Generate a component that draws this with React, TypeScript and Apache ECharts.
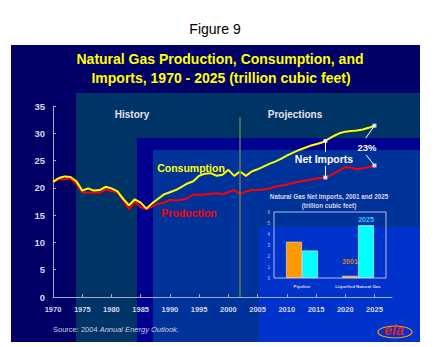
import React, { useEffect, useRef } from "react";
import * as echarts from "echarts";

const years = [
  1970, 1971, 1972, 1973, 1974, 1975, 1976, 1977, 1978, 1979,
  1980, 1981, 1982, 1983, 1984, 1985, 1986, 1987, 1988, 1989,
  1990, 1991, 1992, 1993, 1994, 1995, 1996, 1997, 1998, 1999,
  2000, 2001, 2002, 2003, 2004, 2005, 2006, 2007, 2008, 2009,
  2010, 2011, 2012, 2013, 2014, 2015, 2016, 2017, 2018, 2019,
  2020, 2021, 2022, 2023, 2024, 2025,
];

const consumption = [
  21.1, 21.8, 22.1, 22.0, 21.2, 19.5, 19.9, 19.5, 19.6, 20.2,
  19.9, 19.4, 18.0, 16.8, 17.9, 17.3, 16.2, 17.2, 18.0, 18.8,
  19.2, 19.6, 20.2, 20.8, 21.2, 22.2, 22.6, 22.7, 22.2, 22.4,
  23.3, 22.2, 23.0, 22.2, 23.0, 23.4, 23.9, 24.4, 24.8, 25.3,
  25.9, 26.4, 26.9, 27.3, 27.7, 28.0, 28.3, 28.9, 29.5, 30.0,
  30.3, 30.4, 30.5, 30.7, 31.0, 31.4,
];

const production = [
  21.0, 21.6, 21.6, 21.7, 20.7, 19.2, 19.1, 19.2, 19.1, 19.7,
  19.4, 19.2, 17.8, 16.1, 17.5, 16.5, 16.1, 16.6, 17.1, 17.3,
  17.8, 17.7, 17.8, 18.1, 18.8, 18.7, 18.8, 18.9, 19.0, 18.8,
  19.2, 19.6, 18.9, 19.3, 19.6, 19.6, 19.7, 19.9, 20.2, 20.4,
  20.6, 20.9, 21.1, 21.3, 21.5, 21.7, 21.8, 22.0, 22.6, 23.2,
  23.8, 23.7, 23.4, 23.6, 23.8, 24.1,
];

const xTickLabels = [1970, 1975, 1980, 1985, 1990, 1995, 2000, 2005, 2010, 2015, 2020, 2025];

const insetCategories = ["Pipeline", "Liquefied Natural Gas"];
const imports2001 = [3.3, 0.2];
const imports2025 = [2.5, 4.8];

const historyEndYear = 2002;
const arrowYear = 2016.6;
const arrowConsumption = 28.6;
const arrowProduction = 21.9;

const FONT = '"Liberation Sans", Arial, Helvetica, sans-serif';
const AXIS_COLOR = "#a8a8c8";
const LABEL_COLOR = "#d8d8e8";

function txt(
  text: string,
  x: number,
  y: number,
  size: number,
  fill: string,
  opts: any = {}
) {
  const align = opts.align || "center";
  return {
    type: "text",
    x,
    y,
    z: 50,
    style: {
      text,
      fill,
      fontSize: size,
      fontWeight: opts.weight || "bold",
      fontStyle: opts.style || "normal",
      fontFamily: FONT,
      align,
      textAlign: align,
      verticalAlign: "middle",
      textVerticalAlign: "middle",
    },
  };
}

function rect(x: number, y: number, w: number, h: number, fill: string) {
  return {
    type: "rect",
    z: -10,
    shape: { x, y, width: w, height: h },
    style: { fill },
    silent: true,
  };
}

export default function App() {
  const ref = useRef<HTMLDivElement>(null);

  useEffect(() => {
    if (!ref.current) return;
    const chart = echarts.init(ref.current, undefined, { renderer: "svg" });

    const consPairs = consumption.map((v, i) => [years[i], v]);
    const prodPairs = production.map((v, i) => [years[i], v]);
    const lastYear = years[years.length - 1];
    const lastCons = consumption[consumption.length - 1];
    const lastProd = production[production.length - 1];

    const option: any = {
      animation: false,
      backgroundColor: "#ffffff",
      textStyle: { fontFamily: FONT },
      graphic: {
        elements: [
          rect(11, 45, 409, 297, "#000066"),
          rect(76, 93, 344, 249, "#003366"),
          rect(137, 138, 283, 204, "#000090"),
          rect(153, 150, 267, 192, "#003399"),
          rect(259, 227, 161, 115, "#0033cc"),
          txt("Figure 9", 215, 29, 14, "#000000", { weight: "normal" }),
          txt("Natural Gas Production, Consumption, and", 220, 59, 14, "#ffff00"),
          txt("Imports, 1970 - 2025 (trillion cubic feet)", 221, 78, 14, "#ffff00"),
          txt("History", 132, 114, 10, "#e4e4ee"),
          txt("Projections", 295, 114, 10, "#e4e4ee"),
          txt("Consumption", 191, 168, 10.5, "#ffff00"),
          txt("Production", 189, 213, 10.5, "#ff0000"),
          txt("Net Imports", 324, 159, 10.5, "#ffffff"),
          txt("23%", 367, 147, 9.5, "#ffffff"),
          txt("Natural Gas Net Imports, 2001 and 2025", 329, 196, 6.3, LABEL_COLOR),
          txt("(trillion cubic feet)", 329, 205, 6.3, LABEL_COLOR),
          {
            type: "text",
            x: 53,
            y: 329,
            z: 50,
            style: {
              text: "{a|Source: 2004 }{b|Annual Energy Outlook.}",
              align: "left",
              textAlign: "left",
              verticalAlign: "middle",
              textVerticalAlign: "middle",
              rich: {
                a: { fontSize: 7.5, fill: "#d0d0e0", fontFamily: FONT },
                b: { fontSize: 7.5, fill: "#d0d0e0", fontStyle: "italic", fontFamily: FONT },
              },
            },
          },
          {
            type: "ellipse",
            z: 40,
            shape: { cx: 395, cy: 332, rx: 17, ry: 6 },
            style: { fill: "none", stroke: "#ff9900", lineWidth: 1.2 },
          },
          {
            type: "text",
            x: 394,
            y: 330,
            z: 50,
            style: {
              text: "eia",
              fill: "#e82020",
              fontSize: 14,
              fontWeight: "bold",
              fontStyle: "italic",
              fontFamily: FONT,
              align: "center",
              textAlign: "center",
              verticalAlign: "middle",
              textVerticalAlign: "middle",
            },
          },
        ],
      },
      grid: [
        { left: 53, top: 106, width: 339, height: 191 },
        {
          left: 274,
          top: 212,
          width: 112,
          height: 66,
          show: true,
          borderColor: "#b8bcd8",
          borderWidth: 1,
          backgroundColor: "transparent",
          z: 3,
        },
      ],
      xAxis: [
        {
          type: "value",
          gridIndex: 0,
          min: 1970,
          max: 2028,
          interval: 5,
          splitLine: { show: false },
          axisLine: { show: true, lineStyle: { color: AXIS_COLOR, width: 1 } },
          axisTick: {
            show: true,
            inside: true,
            length: 3,
            customValues: xTickLabels,
            lineStyle: { color: AXIS_COLOR },
          },
          axisLabel: {
            customValues: xTickLabels,
            formatter: (v: number) => String(v),
            color: LABEL_COLOR,
            fontWeight: "bold",
            fontSize: 7.5,
            margin: 8,
            fontFamily: FONT,
          },
        },
        {
          type: "category",
          gridIndex: 1,
          data: insetCategories,
          axisLine: { show: false },
          axisTick: { show: false },
          splitLine: { show: false },
          axisLabel: {
            interval: 0,
            color: LABEL_COLOR,
            fontSize: 4.4,
            fontWeight: "bold",
            margin: 6,
            fontFamily: FONT,
          },
        },
      ],
      yAxis: [
        {
          type: "value",
          gridIndex: 0,
          min: 0,
          max: 35,
          interval: 5,
          splitLine: { show: false },
          axisLine: { show: true, lineStyle: { color: AXIS_COLOR, width: 1 } },
          axisTick: { show: true, inside: true, length: 3, lineStyle: { color: AXIS_COLOR } },
          axisLabel: {
            color: LABEL_COLOR,
            fontWeight: "bold",
            fontSize: 9.5,
            margin: 8,
            fontFamily: FONT,
          },
        },
        {
          type: "value",
          gridIndex: 1,
          min: 0,
          max: 6,
          interval: 1,
          splitLine: { show: false },
          axisLine: { show: false },
          axisTick: { show: false },
          axisLabel: { color: "#c0c4d8", fontSize: 4.5, margin: 4, fontFamily: FONT },
        },
      ],
      series: [
        {
          name: "Production",
          type: "line",
          xAxisIndex: 0,
          yAxisIndex: 0,
          data: prodPairs,
          showSymbol: false,
          symbol: "none",
          lineStyle: { color: "#ff0000", width: 2 },
          itemStyle: { color: "#ff0000" },
          z: 3,
        },
        {
          name: "Consumption",
          type: "line",
          xAxisIndex: 0,
          yAxisIndex: 0,
          data: consPairs,
          showSymbol: false,
          symbol: "none",
          lineStyle: { color: "#ffff00", width: 2 },
          itemStyle: { color: "#ffff00" },
          z: 4,
          markLine: {
            silent: true,
            symbol: "none",
            label: { show: false },
            lineStyle: { color: "#6a7a55", width: 1.5, type: "solid" },
            data: [[{ coord: [historyEndYear, 0] }, { coord: [historyEndYear, 33] }]],
          },
        },
        {
          name: "Annotations",
          type: "scatter",
          xAxisIndex: 0,
          yAxisIndex: 0,
          symbol: "rect",
          symbolSize: 4,
          itemStyle: { color: "#ffffff" },
          z: 6,
          data: [
            [arrowYear, arrowConsumption],
            [arrowYear, arrowProduction],
            [lastYear, lastCons],
            [lastYear, lastProd],
          ],
          markLine: {
            silent: true,
            symbol: "none",
            label: { show: false },
            lineStyle: { color: "#ffffff", width: 1, type: "solid" },
            data: [
              [{ coord: [arrowYear, arrowConsumption] }, { coord: [arrowYear, 26.6] }],
              [{ coord: [arrowYear, 24.0] }, { coord: [arrowYear, arrowProduction] }],
              [{ coord: [lastYear, lastCons] }, { coord: [2023.5, 29.1] }],
              [{ coord: [2023.6, 26.0] }, { coord: [lastYear, lastProd] }],
            ],
          },
        },
        {
          name: "2001",
          type: "bar",
          xAxisIndex: 1,
          yAxisIndex: 1,
          barWidth: 16,
          barGap: "0%",
          itemStyle: { color: "#ff9900", borderColor: "rgba(255,230,190,0.8)", borderWidth: 0.8 },
          z: 5,
          data: imports2001.map((v, i) =>
            i === 1
              ? {
                  value: v,
                  label: {
                    show: true,
                    position: "top",
                    distance: 11,
                    formatter: "2001",
                    color: "#dd8800",
                    fontSize: 7,
                    fontWeight: "bold",
                    fontFamily: FONT,
                  },
                }
              : { value: v }
          ),
        },
        {
          name: "2025",
          type: "bar",
          xAxisIndex: 1,
          yAxisIndex: 1,
          barWidth: 16,
          barGap: "0%",
          itemStyle: { color: "#00ffff", borderColor: "rgba(220,255,255,0.8)", borderWidth: 0.8 },
          z: 5,
          data: imports2025.map((v, i) =>
            i === 1
              ? {
                  value: v,
                  label: {
                    show: true,
                    position: "top",
                    distance: 2,
                    formatter: "2025",
                    color: "#33ccff",
                    fontSize: 7,
                    fontWeight: "bold",
                    fontFamily: FONT,
                  },
                }
              : { value: v }
          ),
        },
      ],
    };

    chart.setOption(option);
    return () => chart.dispose();
  }, []);

  return (
    <div
      ref={ref}
      style={{ position: "absolute", left: 0, top: 0, width: 436, height: 347 }}
    />
  );
}
